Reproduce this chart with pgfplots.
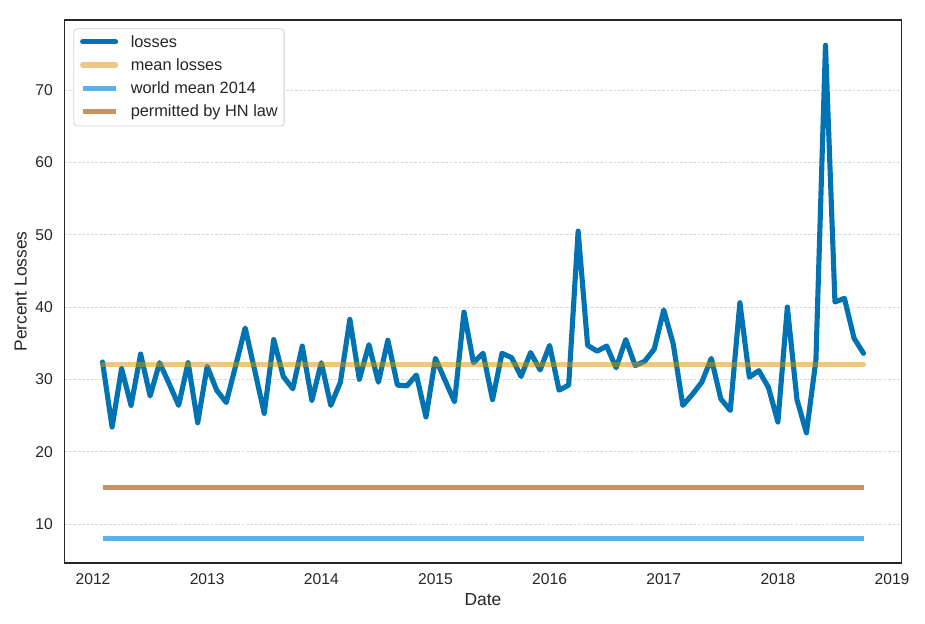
\documentclass[border=0pt]{standalone}
\usepackage{pgfplots}
\pgfplotsset{compat=1.18}
\usepackage{pgfplotstable}
\usepackage{fontspec}
\setmainfont{Liberation Sans}
\definecolor{cBlue}{HTML}{0173B2}
\definecolor{cOrange}{HTML}{DE8F05}
\definecolor{cSky}{HTML}{56B4E9}
\definecolor{cBrown}{HTML}{CA9161}
\definecolor{cText}{HTML}{262626}
\pgfplotstableread{
x val
2012.083 32.4
2012.167 23.4
2012.250 31.5
2012.333 26.4
2012.417 33.5
2012.500 27.7
2012.583 32.3
2012.667 29.4
2012.750 26.4
2012.833 32.3
2012.917 24.0
2013.000 31.8
2013.083 28.5
2013.167 26.8
2013.250 31.9
2013.333 37.1
2013.417 31.2
2013.500 25.3
2013.583 35.5
2013.667 30.4
2013.750 28.7
2013.833 34.6
2013.917 27.1
2014.000 32.3
2014.083 26.4
2014.167 29.6
2014.250 38.3
2014.333 30.0
2014.417 34.8
2014.500 29.6
2014.583 35.4
2014.667 29.2
2014.750 29.1
2014.833 30.6
2014.917 24.8
2015.000 32.9
2015.083 29.9
2015.167 26.9
2015.250 39.3
2015.333 32.3
2015.417 33.6
2015.500 27.2
2015.583 33.6
2015.667 33.0
2015.750 30.4
2015.833 33.7
2015.917 31.3
2016.000 34.7
2016.083 28.5
2016.167 29.2
2016.250 50.5
2016.333 34.7
2016.417 33.9
2016.500 34.6
2016.583 31.6
2016.667 35.5
2016.750 31.9
2016.833 32.5
2016.917 34.2
2017.000 39.6
2017.083 34.9
2017.167 26.4
2017.250 27.9
2017.333 29.6
2017.417 32.9
2017.500 27.3
2017.583 25.7
2017.667 40.6
2017.750 30.3
2017.833 31.2
2017.917 28.9
2018.000 24.1
2018.083 40.0
2018.167 27.2
2018.250 22.6
2018.333 32.6
2018.417 76.2
2018.500 40.7
2018.583 41.2
2018.667 35.7
2018.750 33.6
}\losses
\begin{document}
\begin{tikzpicture}
\useasboundingbox (0,0) rectangle (9.25in,6.24in);
\begin{axis}[
  at={(0.645in,0.61in)}, anchor=south west,
  scale only axis, width=8.37in, height=5.43in,
  xmin=2011.75, xmax=2019.083,
  ymin=4.6, ymax=79.7,
  xtick={2012,2013,2014,2015,2016,2017,2018,2019},
  xticklabels={2012,2013,2014,2015,2016,2017,2018,2019},
  ytick={10,20,30,40,50,60,70},
  /pgf/number format/assume math mode=true,
  major tick length=0pt,
  tick label style={font=\fontsize{11.3}{13}\selectfont, color=cText, inner sep=0pt},
  xticklabel shift=7.2pt,
  yticklabel shift=8.3pt,
  axis line style={color=cText, line width=1.1pt},
  ymajorgrids,
  major grid style={color=black!15, line width=0.5pt, dash pattern=on 2pt off 1.2pt},
  xlabel={Date}, ylabel={Percent Losses},
  label style={font=\fontsize{12.6}{15}\selectfont, color=cText, inner sep=0pt},
  xlabel style={at={(axis description cs:0.5,-0.0552)}, anchor=north},
  ylabel style={at={(axis description cs:-0.0448,0.5)}, anchor=south, rotate=0},
  legend cell align=left,
  legend image code/.code={\path (0pt,0pt); \draw[#1] (0pt,0.6pt) -- (0.33in,0.6pt);},
  legend style={at={(0.0105,0.9847)}, anchor=north west,
    draw=black!18, line width=0.6pt, rounded corners=2.5pt, fill=white,
    font=\fontsize{11.8}{14}\selectfont, text=cText,
    inner xsep=4.6pt, inner ysep=4.3pt, row sep=5.1pt,
    nodes={inner sep=0pt, text height=9pt, text depth=2.6pt},
    /tikz/every odd column/.append style={column sep=9.1pt}},
]
\addplot[color=cBlue, line width=3.7pt, line join=round, line cap=round] table[x=x, y=val] {\losses};
\addlegendentry{losses}
\addplot[color=cOrange, draw opacity=0.5, line width=3.7pt, line cap=round] coordinates {(2012.083,32.05) (2018.75,32.05)};
\addlegendentry{mean losses}
\addplot[color=cSky, line width=3.7pt, line cap=butt] coordinates {(2012.083,8.0) (2018.75,8.0)};
\addlegendentry{world mean 2014}
\addplot[color=cBrown, line width=3.7pt, line cap=butt] coordinates {(2012.083,15.0) (2018.75,15.0)};
\addlegendentry{permitted by HN law}
\end{axis}
\end{tikzpicture}
\end{document}
